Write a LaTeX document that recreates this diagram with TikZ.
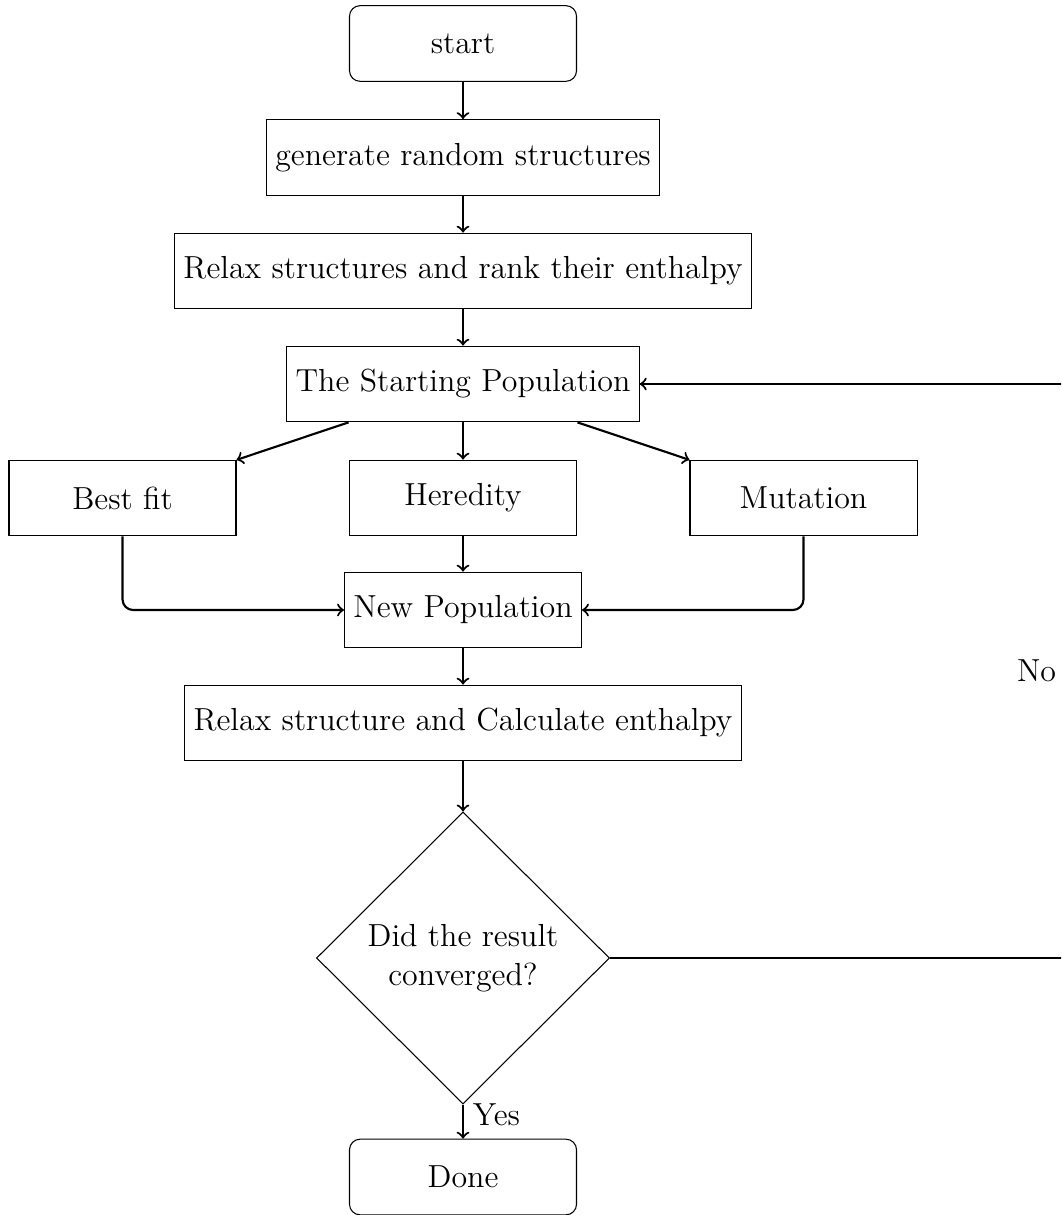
\documentclass[tikz,border=0pt]{standalone}
\usetikzlibrary{shapes.geometric,arrows}
\def\pxu{0.013210cm}
\begin{document}
\begin{tikzpicture}[x=\pxu,y=-\pxu,
  font=\fontsize{12}{14.5}\selectfont,
  termbox/.style={rectangle, rounded corners=4pt, draw=black, minimum width=3cm, minimum height=1cm, text centered},
  procbox/.style={rectangle, draw=black, minimum width=3cm, minimum height=1cm, text centered},
  decbox/.style={diamond, draw=black, minimum width=293*\pxu, minimum height=292*\pxu, align=center, inner sep=0pt},
  conn/.style={thick,->,>=to}]
\clip (0,0) rectangle (1061,1215);
\node[termbox] (start) at (463,43.5) {start};
\node[procbox] (gen) at (463,157.5) {generate random structures};
\node[procbox] (relax) at (463,271) {Relax structures and rank their enthalpy};
\node[procbox] (pop) at (463,384) {The Starting Population};
\node[procbox] (best) at (122.5,498) {Best fit};
\node[procbox] (her) at (463,498) {Heredity};
\node[procbox] (mut) at (803.5,498) {Mutation};
\node[procbox] (newpop) at (463,610) {New Population};
\node[procbox] (calc) at (463,723) {Relax structure and Calculate enthalpy};
\node[decbox] (dec) at (463,958) {Did the result\\converged?};
\node[termbox] (done) at (463,1177) {Done};
\coordinate (c1) at (1066,958);
\coordinate (c2) at (1066,384);
\draw[conn] (start) -- (gen);
\draw[conn] (gen) -- (relax);
\draw[conn] (relax) -- (pop);
\draw[conn] (pop) -- (best);
\draw[conn] (pop) -- (her);
\draw[conn] (pop) -- (mut);
\draw[conn] (her) -- (newpop);
\draw[conn, rounded corners=4pt] (best.south) |- (newpop.west);
\draw[conn, rounded corners=4pt] (mut.south) |- (newpop.east);
\draw[conn] (newpop) -- (calc);
\draw[conn] (calc) -- (dec);
\draw[conn] (dec) -- node[anchor=west, pos=0.3] {Yes} (done);
\draw[conn] (dec.east) -- (c1) -- node[left] {No} (c2) -- (pop.east);
\end{tikzpicture}
\end{document}
